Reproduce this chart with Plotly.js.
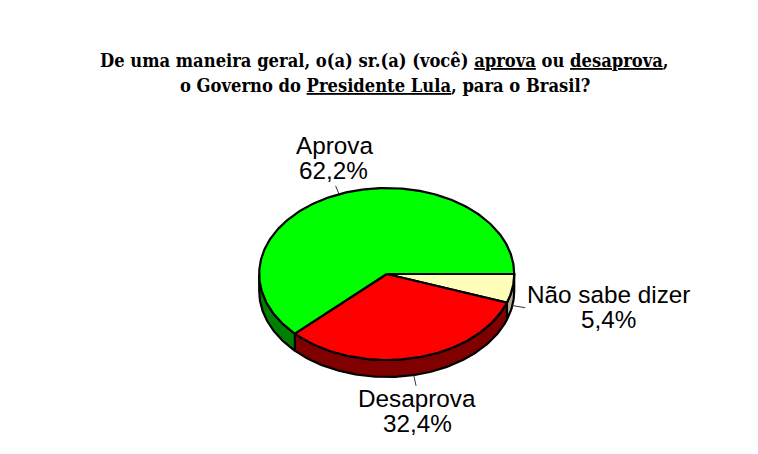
<!DOCTYPE html>
<html>
<head>
<meta charset="utf-8">
<script src="https://cdn.plot.ly/plotly-3.0.1.min.js"></script>
<style>html,body{margin:0;padding:0;background:#fff}</style>
</head>
<body>
<div id="chart" style="width:758px;height:454px"></div>
<script>
const categories = ["Não sabe dizer", "Desaprova", "Aprova"];
const values = [5.4, 32.4, 62.2];
const valueLabels = ["5,4%", "32,4%", "62,2%"];
const topColors = ["#FFFFB9", "#FF0000", "#00FF00"];
const wallColors = ["#B5AD8A", "#800000", "#008000"];
const titleLines = [
  'De uma maneira geral, o(a) sr.(a) (você) <span style="text-decoration:underline">aprova</span> ou <span style="text-decoration:underline">desaprova</span>,',
  'o Governo do <span style="text-decoration:underline">Presidente Lula</span>, para o Brasil?'
];

// pie geometry in the axis units (axes map 1:1 to the page)
const cx = 386.7, cy = 274, rx = 127.5, ry = 86, depth = 17;
const point = (deg, dy) => [cx + rx * Math.cos(deg * Math.PI / 180), cy + ry * Math.sin(deg * Math.PI / 180) + (dy || 0)];
const range = (a, b) => { const n = Math.max(2, Math.ceil(Math.abs(b - a))), o = []; for (let i = 0; i <= n; i++) o.push(a + (b - a) * i / n); return o; };

const total = values.reduce((s, v) => s + v, 0);
let acc = 0;
const slices = values.map((v, i) => { const s = acc / total * 360; acc += v; return {start: s, end: acc / total * 360, i}; });

const traces = [];
const outline = {color: "#000", width: 2.2};
slices.forEach(sl => {
  const a = Math.min(sl.start, 180), b = Math.min(sl.end, 180);
  if (b <= a) return;
  const top = range(a, b).map(d => point(d));
  const bot = range(b, a).map(d => point(d, depth));
  const p = top.concat(bot); p.push(top[0]);
  traces.push({type: "scatter", mode: "lines", x: p.map(q => q[0]), y: p.map(q => q[1]), fill: "toself", fillcolor: wallColors[sl.i], line: outline, hoverinfo: "skip"});
});
slices.forEach(sl => {
  const p = [[cx, cy]].concat(range(sl.start, sl.end).map(d => point(d)));
  p.push([cx, cy]);
  traces.push({type: "scatter", mode: "lines", x: p.map(q => q[0]), y: p.map(q => q[1]), fill: "toself", fillcolor: topColors[sl.i], line: outline, hoverinfo: "skip"});
});
const leaderLen = [13, 11, 9];
slices.forEach(sl => {
  const mid = (sl.start + sl.end) / 2;
  const front = mid < 180;
  const a = point(mid, front ? depth : 0);
  const c = Math.cos(mid * Math.PI / 180), s = Math.sin(mid * Math.PI / 180);
  const L = leaderLen[sl.i];
  traces.push({type: "scatter", mode: "lines", x: [a[0], a[0] + c * L], y: [a[1], a[1] + s * L], line: {color: "#333", width: 1}, hoverinfo: "skip"});
});

const labelFont = {family: "Liberation Sans, Arial, sans-serif", size: 24.3, color: "#000"};
const titleFont = {family: "DejaVu Serif Condensed, DejaVu Serif, serif", size: 18.2, color: "#000"};
const ann = (x, y, text, font) => ({xref: "x", yref: "y", x, y, text, font, showarrow: false, xanchor: "center", yanchor: "middle"});
const annotations = [
  ann(384.5, 60, "<b>" + titleLines[0] + "</b>", titleFont),
  ann(384.5, 85, "<b>" + titleLines[1] + "</b>", titleFont),
  ann(334, 145, categories[2], labelFont),
  ann(333, 170, valueLabels[2], labelFont),
  ann(417, 398, categories[1], labelFont),
  ann(417, 423, valueLabels[1], labelFont),
  ann(608, 294, categories[0], labelFont),
  ann(608, 319, valueLabels[0], labelFont)
];

Plotly.newPlot("chart", traces, {
  width: 758, height: 454,
  margin: {l: 0, r: 0, t: 0, b: 0},
  paper_bgcolor: "#fff", plot_bgcolor: "#fff",
  showlegend: false,
  hovermode: false,
  xaxis: {range: [0, 758], visible: false, fixedrange: true},
  yaxis: {range: [454, 0], visible: false, fixedrange: true},
  annotations
}, {displayModeBar: false, staticPlot: true});
</script>
</body>
</html>
